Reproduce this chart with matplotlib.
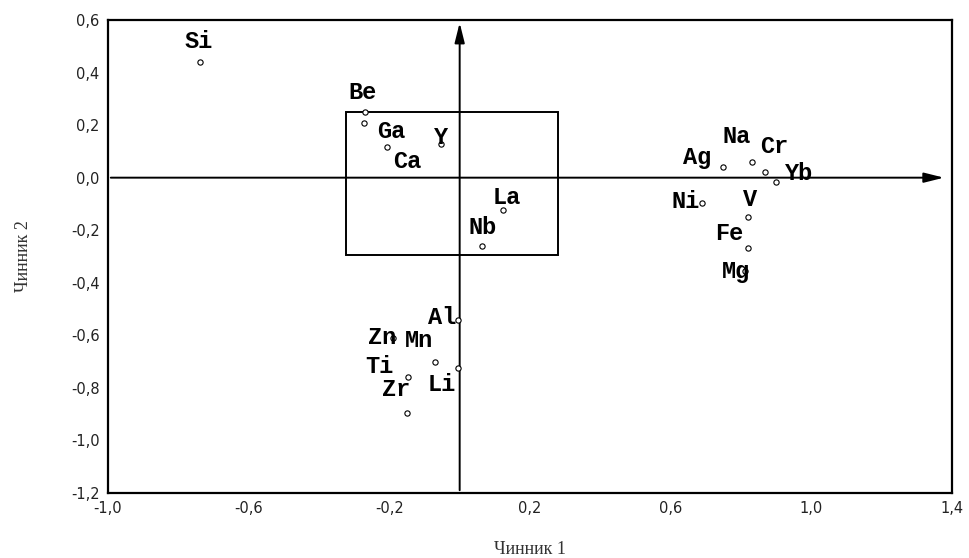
import matplotlib
matplotlib.use("Agg")
import matplotlib.pyplot as plt
from matplotlib.patches import Rectangle
from matplotlib.ticker import FuncFormatter

# factor loadings (factor 1, factor 2)
elements = ["Si", "Be", "Ga", "Y", "Ca", "La", "Nb",
            "Ag", "Na", "Cr", "Yb", "Ni", "V", "Fe", "Mg",
            "Al", "Zn", "Mn", "Ti", "Zr", "Li"]
factor1 = [-0.739, -0.270, -0.273, -0.054, -0.208, 0.122, 0.063,
           0.748, 0.830, 0.867, 0.900, 0.690, 0.819, 0.819, 0.812,
           -0.006, -0.190, -0.071, -0.148, -0.151, -0.006]
factor2 = [0.441, 0.250, 0.209, 0.130, 0.118, -0.122, -0.259,
           0.042, 0.061, 0.023, -0.015, -0.095, -0.148, -0.266, -0.357,
           -0.540, -0.610, -0.700, -0.760, -0.894, -0.723]

# box around the central group
box_x = [-0.324, 0.279]
box_y = [-0.293, 0.251]

x_ticks = [-1.0, -0.6, -0.2, 0.2, 0.6, 1.0, 1.4]
y_ticks = [0.6, 0.4, 0.2, 0.0, -0.2, -0.4, -0.6, -0.8, -1.0, -1.2]

# label offsets from the marker, pixels (dx, dy up)
label_off = {
    "Si": (-1, 20), "Be": (-2, 19), "Ga": (28, -9), "Y": (0, 6),
    "Ca": (21, -15), "La": (4, 12), "Nb": (1, 18), "Ag": (-26, 9),
    "Na": (-15, 25), "Cr": (10, 25), "Yb": (23, 8), "Ni": (-17, 1),
    "V": (2, 17), "Fe": (-18, 14), "Mg": (-9, 0), "Al": (-15, 2),
    "Zn": (-11, 0), "Mn": (-16, 21), "Ti": (-28, 11), "Zr": (-10, 23),
    "Li": (-16, -17),
}

fig = plt.figure(figsize=(9.70, 5.58), dpi=100)
ax = fig.add_axes([108 / 970, 1 - 493 / 558, 844 / 970, 473 / 558])
ax.set_xlim(-1.0, 1.4)
ax.set_ylim(-1.2, 0.6)
for s in ax.spines.values():
    s.set_linewidth(1.6)

ax.set_xticks(x_ticks)
ax.set_yticks(y_ticks)
ax.tick_params(length=0, labelsize=10.5, pad=6, labelcolor="#222222")
ax.xaxis.set_major_formatter(FuncFormatter(lambda v, p: f"{v:.1f}".replace(".", ",")))
ax.yaxis.set_major_formatter(FuncFormatter(lambda v, p: f"{v:.1f}".replace(".", ",")))
for t in ax.get_xticklabels() + ax.get_yticklabels():
    t.set_family("Liberation Sans Narrow")

# axes through the origin with arrows
ax.annotate("", xy=(0, 0.6), xytext=(0, -1.2),
            arrowprops=dict(arrowstyle="-|>,head_length=1.2,head_width=0.3", color="black", lw=1.4))
ax.annotate("", xy=(1.385, 0), xytext=(-1.0, 0),
            arrowprops=dict(arrowstyle="-|>,head_length=1.2,head_width=0.3", color="black", lw=1.4))

ax.add_patch(Rectangle((box_x[0], box_y[0]), box_x[1] - box_x[0], box_y[1] - box_y[0],
                       fill=False, lw=1.4, ec="black"))

ax.plot(factor1, factor2, "o", ms=3.8, mfc="white", mec="black", mew=0.8, zorder=3)
for name, x, y in zip(elements, factor1, factor2):
    dx, dy = label_off[name]
    ax.annotate(name, (x, y), xytext=(dx, dy), textcoords="offset pixels",
                ha="center", va="center", fontsize=17, fontweight="bold",
                family="Liberation Mono", zorder=4)

ax.set_xlabel("Чинник 1", family="Liberation Serif", fontsize=13, labelpad=18,
              color="#333333")
ax.set_ylabel("Чинник 2", family="Liberation Serif", fontsize=13, labelpad=28,
              color="#333333")

fig.savefig("out.png", dpi=100)
